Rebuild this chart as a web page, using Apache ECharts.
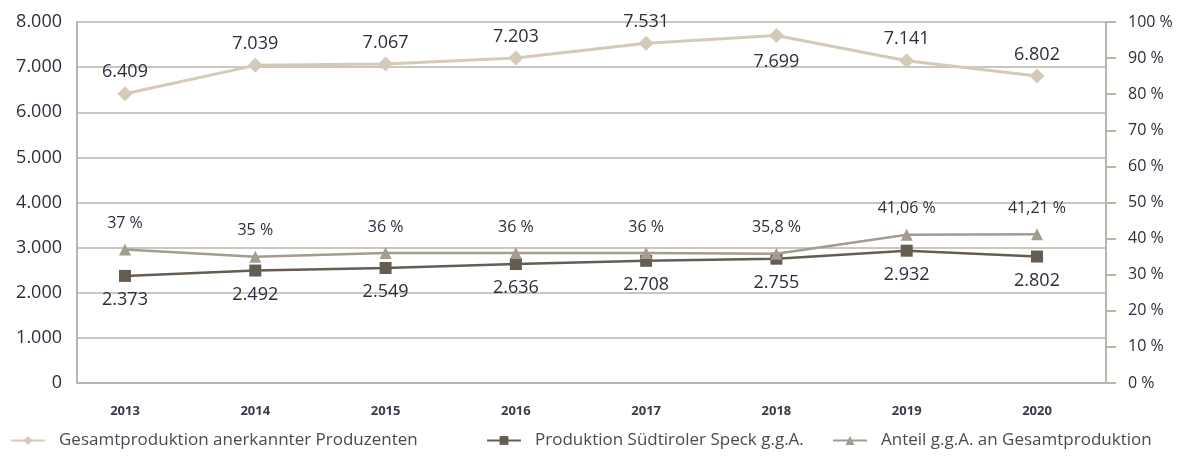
<!DOCTYPE html>
<html>
<head>
<meta charset="utf-8">
<script src="https://cdn.jsdelivr.net/npm/echarts@6/dist/echarts.min.js"></script>
<style>
  html, body { margin: 0; padding: 0; background: #fff; }
  #chart { width: 1193px; height: 460px; }
</style>
</head>
<body>
<div id="chart"></div>
<script>
// Daten
const years = ['2013', '2014', '2015', '2016', '2017', '2018', '2019', '2020']
const gesamt = [6409, 7039, 7067, 7203, 7531, 7699, 7141, 6802]
const speck = [2373, 2492, 2549, 2636, 2708, 2755, 2932, 2802]
const anteil = [37, 35, 36, 36, 36, 35.8, 41.06, 41.21]
const names = [
  'Gesamtproduktion anerkannter Produzenten',
  'Produktion Südtiroler Speck g.g.A.',
  'Anteil g.g.A. an Gesamtproduktion'
]

const FONT = '"Open Sans", sans-serif'
const textColor = '#2c2e3e'
const gridColor = '#bab4aa'

// deutsche Zahlenformatierung
function fmtThousand(v) {
  return String(v).replace(/\B(?=(\d{3})+(?!\d))/g, '.')
}
function fmtPercent(v) {
  return String(v).replace('.', ',') + ' %'
}

const chart = echarts.init(document.getElementById('chart'))

function legendAt(name, left) {
  return {
    data: [name],
    left: left,
    top: 427,
    itemWidth: 34,
    itemHeight: 11,
    textStyle: { fontSize: 17, color: '#4a4a52', padding: [0, 0, 0, 9] }
  }
}

const option = {
  animation: false,
  textStyle: { fontFamily: FONT },
  grid: [
    { left: 77, right: 87, top: 22, bottom: 77 },
    { left: 125, right: 156, top: 22, bottom: 77 }
  ],
  xAxis: [
    {
      gridIndex: 0,
      type: 'category',
      data: years,
      axisLine: { lineStyle: { color: gridColor, width: 2 } },
      axisTick: { show: false },
      axisLabel: { show: false }
    },
    {
      gridIndex: 1,
      type: 'category',
      boundaryGap: false,
      data: years,
      axisLine: { show: false },
      axisTick: { show: false },
      axisLabel: { margin: 22, fontSize: 13, fontWeight: 'bold', color: '#3a3a48', fontFamily: FONT }
    }
  ],
  yAxis: [
    {
      gridIndex: 0,
      type: 'value',
      min: 0,
      max: 8000,
      interval: 1000,
      axisLine: { show: true, lineStyle: { color: gridColor, width: 2 } },
      axisTick: { show: false },
      splitLine: { lineStyle: { color: gridColor, width: 1.5 } },
      axisLabel: { margin: 15, fontSize: 18, color: textColor, formatter: fmtThousand }
    },
    {
      gridIndex: 0,
      type: 'value',
      position: 'right',
      min: 0,
      max: 100,
      interval: 10,
      axisLine: { show: true, lineStyle: { color: gridColor, width: 2 } },
      axisTick: { show: true, length: 10, lineStyle: { color: gridColor, width: 2 } },
      splitLine: { show: false },
      axisLabel: { margin: 22, fontSize: 16, color: textColor, formatter: (v) => v + ' %' }
    },
    { gridIndex: 1, type: 'value', min: 0, max: 8000, show: false, splitLine: { show: false } },
    { gridIndex: 1, type: 'value', min: 0, max: 100, show: false, splitLine: { show: false } }
  ],
  legend: [
    legendAt(names[0], 5),
    legendAt(names[1], 481),
    legendAt(names[2], 827)
  ],
  series: [
    {
      name: names[0],
      type: 'line',
      xAxisIndex: 1,
      yAxisIndex: 2,
      data: gesamt.map((v, i) => (i === 5 ? { value: v, label: { position: 'bottom', distance: 10 } } : v)),
      symbol: 'diamond',
      symbolSize: 15,
      color: '#d5cab7',
      lineStyle: { color: '#d5cab7', width: 3 },
      itemStyle: { color: '#d5cab7' },
      label: {
        show: true, position: 'top', distance: 5, fontSize: 18, color: textColor,
        formatter: (p) => fmtThousand(p.value)
      },
      z: 3
    },
    {
      name: names[1],
      type: 'line',
      xAxisIndex: 1,
      yAxisIndex: 2,
      data: speck,
      symbol: 'rect',
      symbolSize: 12,
      color: '#655c52',
      lineStyle: { color: '#655c52', width: 2.5 },
      itemStyle: { color: '#655c52' },
      label: {
        show: true, position: 'bottom', distance: 9, fontSize: 18, color: textColor,
        formatter: (p) => fmtThousand(p.value)
      },
      z: 4
    },
    {
      name: names[2],
      type: 'line',
      xAxisIndex: 1,
      yAxisIndex: 3,
      data: anteil,
      symbol: 'triangle',
      symbolSize: 12,
      color: '#a39c90',
      lineStyle: { color: '#a39c90', width: 2.5 },
      itemStyle: { color: '#a39c90' },
      label: {
        show: true, position: 'top', distance: 12, fontSize: 16, color: textColor,
        formatter: (p) => fmtPercent(p.value)
      },
      z: 5
    }
  ]
}

chart.setOption(option)
</script>
</body>
</html>
